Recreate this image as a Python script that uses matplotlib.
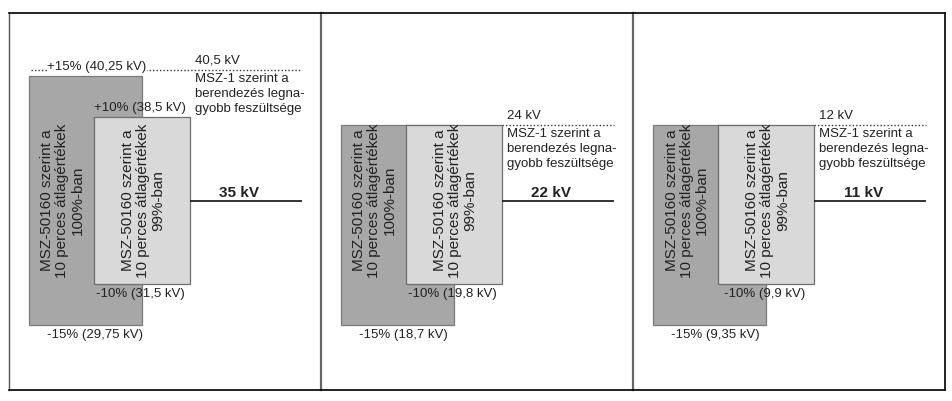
import matplotlib
matplotlib.use("Agg")
import matplotlib.pyplot as plt

plt.rcParams['font.family'] = ['Liberation Sans', 'DejaVu Sans']

# ---- data ----
nominal_kv = [35, 22, 11]          # nominal voltage of each panel
max_kv = [40.5, 24, 12]            # MSZ-1 highest equipment voltage
band_100_pct = 15                  # 100% of 10-min averages within +-15 %
band_99_pct = 10                   # 99% of 10-min averages within +-10 %
max_label_lines = ["MSZ-1 szerint a", "berendezés legna-", "gyobb feszültsége"]
box_100_label = "MSZ-50160 szerint a\n10 perces átlagértékek\n100%-ban"
box_99_label = "MSZ-50160 szerint a\n10 perces átlagértékek\n99%-ban"


def fmt_kv(v):
    return f"{round(v, 2):g}".replace('.', ',')


# ---- layout (pixels) ----
W, H = 953, 401
panel_left = [9, 321, 633.5]
panel_right = [321, 633.5, 945]
top_px, bot_px = 12.5, 390
center_px, px_per_pct = 200.5, 8.33
DARK_X0, DARK_X1 = 20, 133
LIGHT_X0, LIGHT_X1 = 85, 181
LINE_X1 = 293
MAX_TEXT_X = 186
LOW_TEXT_X = 38
NOM_TEXT_X = 230
PT = 0.72  # points per pixel at dpi 100

TXT = '#222222'
DARK_FILL, DARK_EDGE = '#a7a7a7', '#7a7a7a'
LIGHT_FILL, LIGHT_EDGE = '#d9d9d9', '#6e6e6e'
SMALL = 9.5

fig = plt.figure(figsize=(W / 100, H / 100), dpi=100)

ymax = (center_px - top_px) / px_per_pct
ymin = -(bot_px - center_px) / px_per_pct

for i, (nom, mx) in enumerate(zip(nominal_kv, max_kv)):
    l, r = panel_left[i], panel_right[i]
    ax = fig.add_axes([l / W, 1 - bot_px / H, (r - l) / W, (bot_px - top_px) / H])
    ax.set_facecolor('none')
    ax.set_xlim(0, r - l)
    ax.set_ylim(ymin, ymax)
    ax.set_xticks([])
    ax.set_yticks([])
    for s in ['top', 'bottom']:
        ax.spines[s].set_color('#111111')
        ax.spines[s].set_linewidth(1.3)
    ax.spines['left'].set_visible(i == 0)
    ax.spines['left'].set_color('#555555')
    ax.spines['left'].set_linewidth(1.0)
    ax.spines['right'].set_color('#111111' if i == 2 else '#666666')
    ax.spines['right'].set_linewidth(1.3 if i == 2 else 1.6)

    max_pct = (mx / nom - 1) * 100
    top100 = min(band_100_pct, max_pct)
    top99 = min(band_99_pct, max_pct)

    ax.bar(DARK_X0, top100 + band_100_pct, bottom=-band_100_pct,
           width=DARK_X1 - DARK_X0, align='edge',
           color=DARK_FILL, edgecolor=DARK_EDGE, linewidth=0.9, zorder=2)
    ax.bar(LIGHT_X0, top99 + band_99_pct, bottom=-band_99_pct,
           width=LIGHT_X1 - LIGHT_X0, align='edge',
           color=LIGHT_FILL, edgecolor=LIGHT_EDGE, linewidth=0.9, zorder=3)

    # rotated box labels
    ax.text((DARK_X0 + LIGHT_X0) / 2 + 1, 0, box_100_label, rotation=90,
            ha='center', va='center', multialignment='center',
            fontsize=11, color=TXT, linespacing=1.12, zorder=5)
    ax.text((LIGHT_X0 + LIGHT_X1) / 2 + 1, 0, box_99_label, rotation=90,
            ha='center', va='center', multialignment='center',
            fontsize=11, color=TXT, linespacing=1.12, zorder=5)

    # nominal line and label
    ax.hlines(0, LIGHT_X1, LINE_X1, color='#111111', linewidth=1.2, zorder=4)
    ax.annotate(f"{fmt_kv(nom)} kV", xy=(NOM_TEXT_X, 0), xytext=(0, 8 * PT),
                textcoords='offset points', ha='center', va='center',
                fontsize=11, fontweight='bold', color=TXT)

    # max voltage dotted line
    x_start = DARK_X0 + 2 if max_pct > band_100_pct else LIGHT_X1
    ax.hlines(max_pct, x_start, LINE_X1, color='#333333', linewidth=1.0,
              linestyles=(0, (1, 1.5)), zorder=1)
    ax.annotate(f"{fmt_kv(mx)} kV", xy=(MAX_TEXT_X, max_pct),
                xytext=(0, 9 * PT), textcoords='offset points',
                ha='left', va='center', fontsize=SMALL, color=TXT)
    for k, line in enumerate(max_label_lines):
        ax.annotate(line, xy=(MAX_TEXT_X, max_pct),
                    xytext=(0, -(9 + 15 * k) * PT), textcoords='offset points',
                    ha='left', va='center', fontsize=SMALL, color=TXT)

    # band limit labels
    lo100 = nom * (1 - band_100_pct / 100)
    lo99 = nom * (1 - band_99_pct / 100)
    hi100 = nom * (1 + band_100_pct / 100)
    hi99 = nom * (1 + band_99_pct / 100)
    ax.annotate(f"-{band_100_pct}% ({fmt_kv(lo100)} kV)", xy=(LOW_TEXT_X, -band_100_pct),
                xytext=(0, -9.5 * PT), textcoords='offset points',
                ha='left', va='center', fontsize=SMALL, color=TXT, zorder=6)
    ax.annotate(f"-{band_99_pct}% ({fmt_kv(lo99)} kV)",
                xy=((LIGHT_X0 + LIGHT_X1) / 2 - 2, -band_99_pct),
                xytext=(0, -10 * PT), textcoords='offset points',
                ha='center', va='center', fontsize=SMALL, color=TXT, zorder=6)
    if band_100_pct < max_pct:
        ax.annotate(f"+{band_100_pct}% ({fmt_kv(hi100)} kV)", xy=(LOW_TEXT_X, band_100_pct),
                    xytext=(0, 9 * PT), textcoords='offset points',
                    ha='left', va='center', fontsize=SMALL, color=TXT, zorder=6,
                    bbox=dict(facecolor='white', edgecolor='none', pad=0.2))
    if band_99_pct < max_pct:
        ax.annotate(f"+{band_99_pct}% ({fmt_kv(hi99)} kV)",
                    xy=((LIGHT_X0 + LIGHT_X1) / 2 - 2, band_99_pct),
                    xytext=(0, 9 * PT), textcoords='offset points',
                    ha='center', va='center', fontsize=SMALL, color=TXT, zorder=6)

fig.savefig('out.png', dpi=100)
